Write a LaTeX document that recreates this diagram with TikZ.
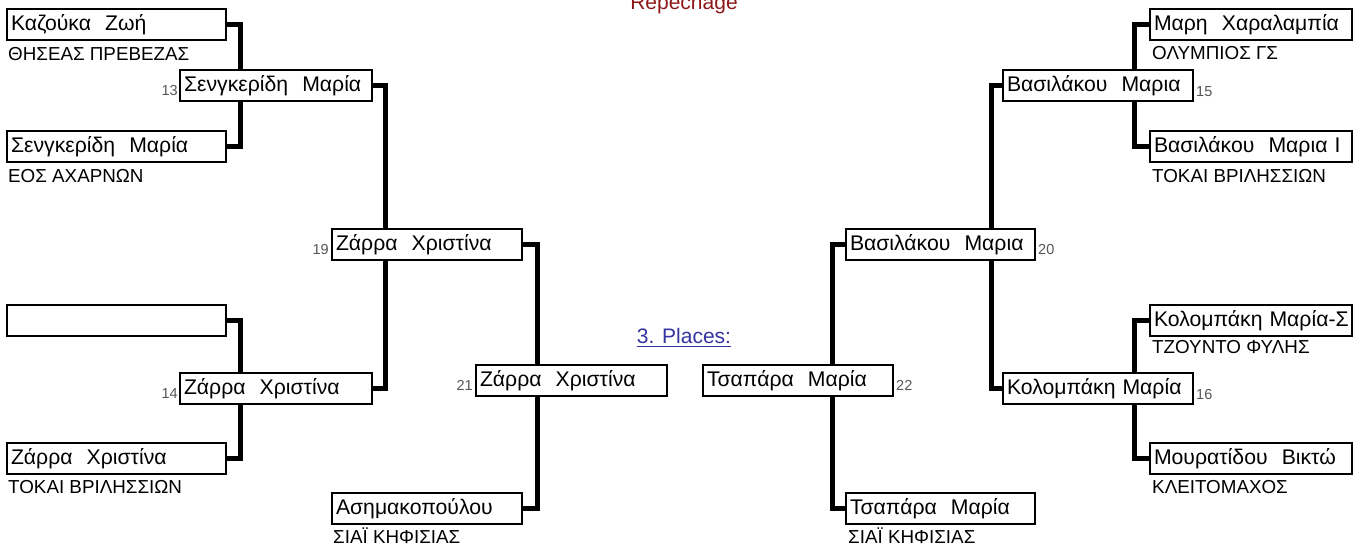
\documentclass[tikz,border=0pt]{standalone}
\usepackage{fontspec}
\setmainfont{Liberation Sans}
\definecolor{repred}{RGB}{140,24,24}
\definecolor{placeblue}{RGB}{52,52,160}
\definecolor{numgray}{RGB}{85,85,85}
\newcommand\namefont{\fontsize{21.2pt}{23pt}\selectfont}
\newcommand\clubfont{\fontsize{18.8pt}{20pt}\selectfont}
\newcommand\numfont{\fontsize{14.5pt}{16pt}\selectfont}
\newcommand\mybox[5]{\node[pbox, text width=\dimexpr#4pt-8pt\relax] (#1) at (#2,#3) {\mbox{#5}};}
\tikzset{
  pbox/.style={draw, line width=2.6pt, anchor=north west, minimum height=31pt,
    inner xsep=4pt, inner ysep=0pt, outer sep=0pt, align=left, font=\namefont},
  conn/.style={line width=5pt, line join=miter},
  club/.style={anchor=base west, inner sep=0pt, font=\clubfont},
  numl/.style={anchor=base east, inner sep=0pt, font=\numfont, text=numgray},
  numr/.style={anchor=base west, inner sep=0pt, font=\numfont, text=numgray},
}
\begin{document}
\begin{tikzpicture}[x=1pt, y=-1pt]
\useasboundingbox (0,0) rectangle (1370,547);
% left half
\mybox{la}{7}{9}{219}{Καζούκα\ \ Ζωή}
\mybox{lb}{7}{131}{219}{Σενγκερίδη\ \ Μαρία}
\mybox{lc}{7}{305}{219}{}
\mybox{ld}{7}{443}{219}{Ζάρρα\ \ Χριστίνα}
\mybox{l13}{180}{70}{192}{Σενγκερίδη\ \ Μαρία}
\mybox{l14}{180}{373}{192}{Ζάρρα\ \ Χριστίνα}
\mybox{l19}{332}{229}{190}{Ζάρρα\ \ Χριστίνα}
\mybox{l21}{476}{365}{191}{Ζάρρα\ \ Χριστίνα}
\mybox{lf}{332}{493}{190}{Ασημακοπούλου}
% right half
\mybox{ra}{1150}{9}{202}{Μαρη\ \ Χαραλαμπία}
\mybox{rb}{1150}{131}{202}{Βασιλάκου\ \ Μαρια Ι}
\mybox{rc}{1150}{305}{202}{Κολομπάκη Μαρία-Σ}
\mybox{rd}{1150}{443}{202}{Μουρατίδου\ \ Βικτώ}
\mybox{r15}{1003}{70}{190}{Βασιλάκου\ \ Μαρια}
\mybox{r16}{1003}{373}{190}{Κολομπάκη Μαρία}
\mybox{r20}{846}{229}{189}{Βασιλάκου\ \ Μαρια}
\mybox{r22}{703}{365}{190}{Τσαπάρα\ \ Μαρία}
\mybox{rf}{846}{493}{189}{Τσαπάρα\ \ Μαρία}
% clubs
\node[club] (cla) at ([xshift=1pt,yshift=-20pt]la.south west) {ΘΗΣΕΑΣ ΠΡΕΒΕΖΑΣ};
\node[club] (clb) at ([xshift=1pt,yshift=-20pt]lb.south west) {ΕΟΣ ΑΧΑΡΝΩΝ};
\node[club] (cld) at ([xshift=1pt,yshift=-19pt]ld.south west) {ΤΟΚΑΙ ΒΡΙΛΗΣΣΙΩΝ};
\node[club] (clf) at ([xshift=1pt,yshift=-19pt]lf.south west) {ΣΙΑΪ ΚΗΦΙΣΙΑΣ};
\node[club] (cra) at ([xshift=2pt,yshift=-19pt]ra.south west) {ΟΛΥΜΠΙΟΣ ΓΣ};
\node[club] (crb) at ([xshift=2pt,yshift=-20pt]rb.south west) {ΤΟΚΑΙ ΒΡΙΛΗΣΣΙΩΝ};
\node[club] (crc) at ([xshift=2pt,yshift=-17pt]rc.south west) {ΤΖΟΥΝΤΟ ΦΥΛΗΣ};
\node[club] (crd) at ([xshift=2pt,yshift=-19pt]rd.south west) {ΚΛΕΙΤΟΜΑΧΟΣ};
\node[club] (crf) at ([xshift=2pt,yshift=-19pt]rf.south west) {ΣΙΑΪ ΚΗΦΙΣΙΑΣ};
% match numbers
\node[numl] (n13) at ([xshift=-2pt,yshift=6pt]l13.south west) {13};
\node[numl] (n14) at ([xshift=-2pt,yshift=6pt]l14.south west) {14};
\node[numl] (n19) at ([xshift=-3pt,yshift=6pt]l19.south west) {19};
\node[numl] (n21) at ([xshift=-3pt,yshift=6pt]l21.south west) {21};
\node[numr] (n15) at ([xshift=3pt,yshift=5pt]r15.south east) {15};
\node[numr] (n16) at ([xshift=3pt,yshift=5pt]r16.south east) {16};
\node[numr] (n20) at ([xshift=3pt,yshift=6pt]r20.south east) {20};
\node[numr] (n22) at ([xshift=3pt,yshift=6pt]r22.south east) {22};
% connectors left
\draw[conn] (la.east) -- ++(14,0) coordinate (c1) -- (c1 |- l13.north);
\draw[conn] (lb.east) -- ++(14,0) coordinate (c2) -- (c2 |- l13.south);
\draw[conn] (lc.east) -- ++(14,0) coordinate (c3) -- (c3 |- l14.north);
\draw[conn] (ld.east) -- ++(14,0) coordinate (c4) -- (c4 |- l14.south);
\draw[conn] (l13.east) -- ++(13,0) coordinate (c5) -- (c5 |- l19.north);
\draw[conn] (l14.east) -- ++(13,0) coordinate (c6) -- (c6 |- l19.south);
\draw[conn] (l19.east) -- ++(15,0) coordinate (c7) -- (c7 |- l21.north);
\draw[conn] (lf.east) -- ++(15,0) coordinate (c8) -- (c8 |- l21.south);
% connectors right
\draw[conn] (ra.west) -- ++(-16,0) coordinate (d1) -- (d1 |- r15.north);
\draw[conn] (rb.west) -- ++(-16,0) coordinate (d2) -- (d2 |- r15.south);
\draw[conn] (rc.west) -- ++(-16,0) coordinate (d3) -- (d3 |- r16.north);
\draw[conn] (rd.west) -- ++(-16,0) coordinate (d4) -- (d4 |- r16.south);
\draw[conn] (r15.west) -- ++(-12,0) coordinate (d5) -- (d5 |- r20.north);
\draw[conn] (r16.west) -- ++(-12,0) coordinate (d6) -- (d6 |- r20.south);
\draw[conn] (r20.west) -- ++(-14,0) coordinate (d7) -- (d7 |- r22.north);
\draw[conn] (rf.west) -- ++(-14,0) coordinate (d8) -- (d8 |- r22.south);
% headings
\node[anchor=base, inner sep=0pt, text=repred, font=\fontsize{21pt}{23pt}\selectfont] (rep) at (684,9) {Repechage};
\node[anchor=base, inner sep=0pt, text=placeblue, font=\fontsize{21pt}{23pt}\selectfont] (pl) at (684,343) {3. Places:};
\draw[placeblue, line width=1.8pt] ([yshift=-3.5pt]pl.base west) -- ([yshift=-3.5pt]pl.base east);
\end{tikzpicture}
\end{document}
